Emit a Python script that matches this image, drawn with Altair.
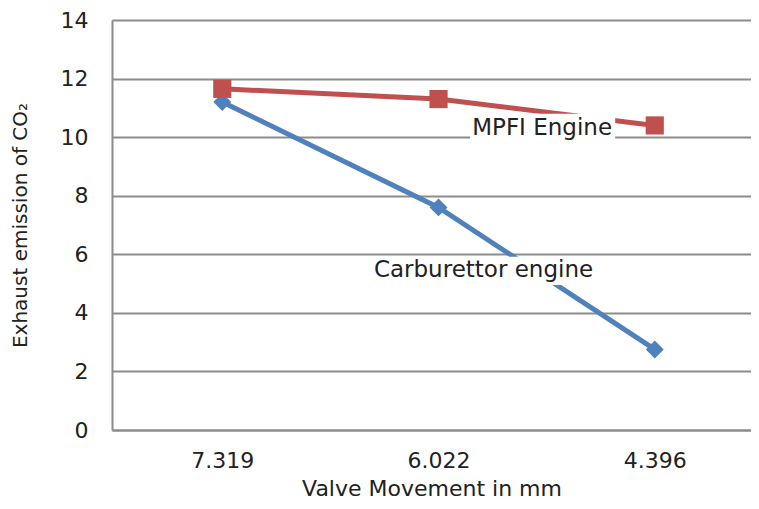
import json
import altair as alt
import pandas as pd

# ---- data ----
valve_mm = ["7.319", "6.022", "4.396"]
series_names = ["Carburettor engine", "MPFI Engine"]
carb_co2 = [11.2, 7.6, 2.75]
mpfi_co2 = [11.65, 11.3, 10.4]
y_ticks = [0, 2, 4, 6, 8, 10, 12, 14]

# annotation labels (position in category-index units and y units)
label_text = ["MPFI Engine", "Carburettor engine"]
label_x = [1.979, 1.708]
label_y = [10.31, 5.46]
label_box_x1 = [1.646, 1.174]
label_box_x2 = [2.317, 2.247]
label_box_y1 = [9.9, 4.95]
label_box_y2 = [10.8, 5.92]

rows = []
for name, vals in zip(series_names, [carb_co2, mpfi_co2]):
    for i, (cat, v) in enumerate(zip(valve_mm, vals)):
        rows.append({"series": name, "valve": cat, "pos": i + 0.5, "co2": v})
df = pd.DataFrame(rows)

labels = pd.DataFrame({
    "text": label_text, "x": label_x, "y": label_y,
    "x1": label_box_x1, "x2": label_box_x2,
    "y1": label_box_y1, "y2": label_box_y2,
})

FONT = "DejaVu Sans"
GRID = "#8c8c8c"
BLUE = "#4f81bd"
RED = "#c0504d"
TXT = "#222222"

label_expr = json.dumps(valve_mm) + "[floor(datum.value)]"

x_enc = alt.X(
    "pos:Q",
    scale=alt.Scale(domain=[-0.01, 2.945], nice=False, zero=False),
    axis=alt.Axis(
        values=[i + 0.5 for i in range(len(valve_mm))],
        labelExpr=label_expr,
        title="Valve Movement in mm",
        grid=False, ticks=False, tickSize=0,
        domainColor=GRID, domainWidth=2,
        labelFont=FONT, labelFontSize=22, labelColor=TXT,
        labelPadding=20,
        titleFont=FONT, titleFontSize=22, titleFontWeight="normal",
        titleColor=TXT, titleY=58, titleBaseline="middle",
    ),
)
y_enc = alt.Y(
    "co2:Q",
    scale=alt.Scale(domain=[0, 14], nice=False),
    axis=alt.Axis(
        values=y_ticks,
        title="Exhaust emission of CO₂",
        grid=True, gridColor=GRID, gridWidth=2,
        ticks=False, tickSize=0,
        domainColor=GRID, domainWidth=2,
        labelFont=FONT, labelFontSize=22, labelColor=TXT,
        labelPadding=24,
        titleFont=FONT, titleFontSize=20, titleFontWeight="normal",
        titleColor=TXT, titleX=-92, titleY=205,
        titleBaseline="middle", titleAngle=270,
    ),
)

base = alt.Chart(df)

def series_layers(name, color, shape, size):
    sub = base.transform_filter(alt.datum.series == name)
    line = sub.mark_line(color=color, strokeWidth=5).encode(x=x_enc, y=y_enc)
    pts = sub.mark_point(
        color=color, fill=color, filled=True, shape=shape, size=size, opacity=1
    ).encode(x="pos:Q", y="co2:Q")
    return line + pts

carb_layer = series_layers(series_names[0], BLUE, "diamond", 320)
mpfi_layer = series_layers(series_names[1], RED, "square", 330)

boxes = alt.Chart(labels).mark_rect(fill="white").encode(
    x="x1:Q", x2="x2:Q", y="y1:Q", y2="y2:Q"
)
texts = alt.Chart(labels).mark_text(
    font=FONT, fontSize=23, color=TXT, align="center", baseline="middle"
).encode(x="x:Q", y="y:Q", text="text:N")

chart = alt.layer(carb_layer, mpfi_layer, boxes, texts).properties(
    width=639,
    height=410,
    autosize=alt.AutoSizeParams(type="none"),
    padding={"left": 104, "top": 12, "right": 0, "bottom": 71},
).configure_view(stroke=None).configure(background="white")

chart.save("out.html", embed_options={"renderer": "svg", "actions": False})
